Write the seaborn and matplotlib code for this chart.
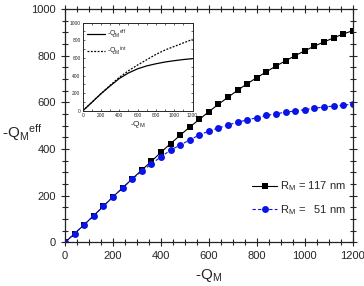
import numpy as np
import pandas as pd
import matplotlib
matplotlib.use('Agg')
import matplotlib.pyplot as plt
import seaborn as sns
from matplotlib.ticker import MultipleLocator

# ============================================================
# DATA
# ============================================================

q_m = [0, 40, 80, 120, 160, 200, 240, 280, 320, 360, 400, 440, 480, 520, 560,
       600, 640, 680, 720, 760, 800, 840, 880, 920, 960, 1000, 1040, 1080,
       1120, 1160, 1200]
q_eff_117 = [0, 38, 76, 115, 155, 195, 234, 272, 310, 347, 386, 423, 459, 494,
             527, 560, 592, 622, 652, 680, 706, 731, 756, 778, 800, 821, 841,
             859, 876, 893, 907]
q_eff_51 = [0, 38, 76, 115, 155, 195, 233, 271, 305, 336, 367, 395, 417, 439,
            460, 477, 490, 503, 515, 525, 534, 544, 551, 558, 563, 569, 575,
            580, 584, 588, 592]

inset_q = [0, 100, 200, 300, 400, 500, 600, 700, 800, 900, 1000, 1100, 1200]
inset_eff = [0, 97, 195, 283, 367, 430, 477, 510, 534, 554, 569, 582, 592]
inset_int = [0, 97, 195, 290, 380, 455, 520, 580, 640, 690, 730, 770, 810]

legend_labels = ['R$_M$ = 117 nm', 'R$_M$ =   51 nm']

# ============================================================
# STYLE
# ============================================================

sns.set_style('ticks')
plt.rcParams['font.family'] = ['Liberation Sans', 'DejaVu Sans']
plt.rcParams['mathtext.default'] = 'regular'

fig = plt.figure(figsize=(3.64, 2.86), dpi=100)
ax = fig.add_axes([0.1786, 0.1524, 0.7904, 0.8161])

df_main = pd.DataFrame({
    'q': q_m * 2,
    'qeff': q_eff_117 + q_eff_51,
    'series': [legend_labels[0]] * len(q_m) + [legend_labels[1]] * len(q_m),
})

sns.lineplot(data=df_main, x='q', y='qeff', hue='series', style='series',
             palette=['black', '#0a14e6'], dashes=[(None, None), (3, 2)],
             markers=['s', 'o'], markersize=5, markeredgewidth=0,
             linewidth=0.8, ax=ax)

ax.set_xlim(0, 1200)
ax.set_ylim(0, 1000)
ax.xaxis.set_major_locator(MultipleLocator(200))
ax.xaxis.set_minor_locator(MultipleLocator(50))
ax.yaxis.set_major_locator(MultipleLocator(200))
ax.yaxis.set_minor_locator(MultipleLocator(50))
ax.tick_params(which='major', direction='inout', length=6, width=0.8,
               top=True, right=True, labelsize=8)
ax.tick_params(which='minor', direction='inout', length=4, width=0.8,
               top=True, right=True)
for sp in ax.spines.values():
    sp.set_linewidth(0.9)
    sp.set_color('#222222')

ax.set_xlabel('-Q$_M$', fontsize=11, labelpad=4)
ax.set_ylabel('-Q$_M$$^{eff}$', fontsize=11, rotation=0, ha='left', va='center')
ax.yaxis.set_label_coords(-0.219, 0.47)

leg = ax.legend(loc='lower right', bbox_to_anchor=(1.0, 0.08), frameon=False,
                fontsize=8, handlelength=2.2, handletextpad=0.3,
                labelspacing=0.9, borderaxespad=0.2)

# ============================================================
# INSET
# ============================================================

axin = fig.add_axes([0.227, 0.612, 0.302, 0.309])
df_in = pd.DataFrame({
    'q': inset_q * 2,
    'val': inset_eff + inset_int,
    'kind': ['-Q$_M$$^{eff}$'] * len(inset_q) + ['-Q$_M$$^{int}$'] * len(inset_q),
})
sns.lineplot(data=df_in, x='q', y='val', hue='kind', style='kind',
             palette=['black', 'black'], dashes=[(None, None), (1.5, 1.2)],
             linewidth=0.9, ax=axin)
axin.set_xlim(0, 1200)
axin.set_ylim(0, 1000)
axin.xaxis.set_major_locator(MultipleLocator(200))
axin.xaxis.set_minor_locator(MultipleLocator(100))
axin.yaxis.set_major_locator(MultipleLocator(200))
axin.yaxis.set_minor_locator(MultipleLocator(100))
axin.tick_params(which='both', direction='in', length=1.5, width=0.5,
                 top=True, right=True, labelsize=3.5, pad=1.5)
for sp in axin.spines.values():
    sp.set_linewidth(0.7)
axin.set_xlabel('-Q$_M$', fontsize=6, labelpad=1)
axin.set_ylabel('')
axin.legend(loc='upper left', frameon=False, fontsize=5, handlelength=2.5,
            handletextpad=0.3, labelspacing=0.6, borderaxespad=0.3)

fig.savefig('out.png', dpi=100)
